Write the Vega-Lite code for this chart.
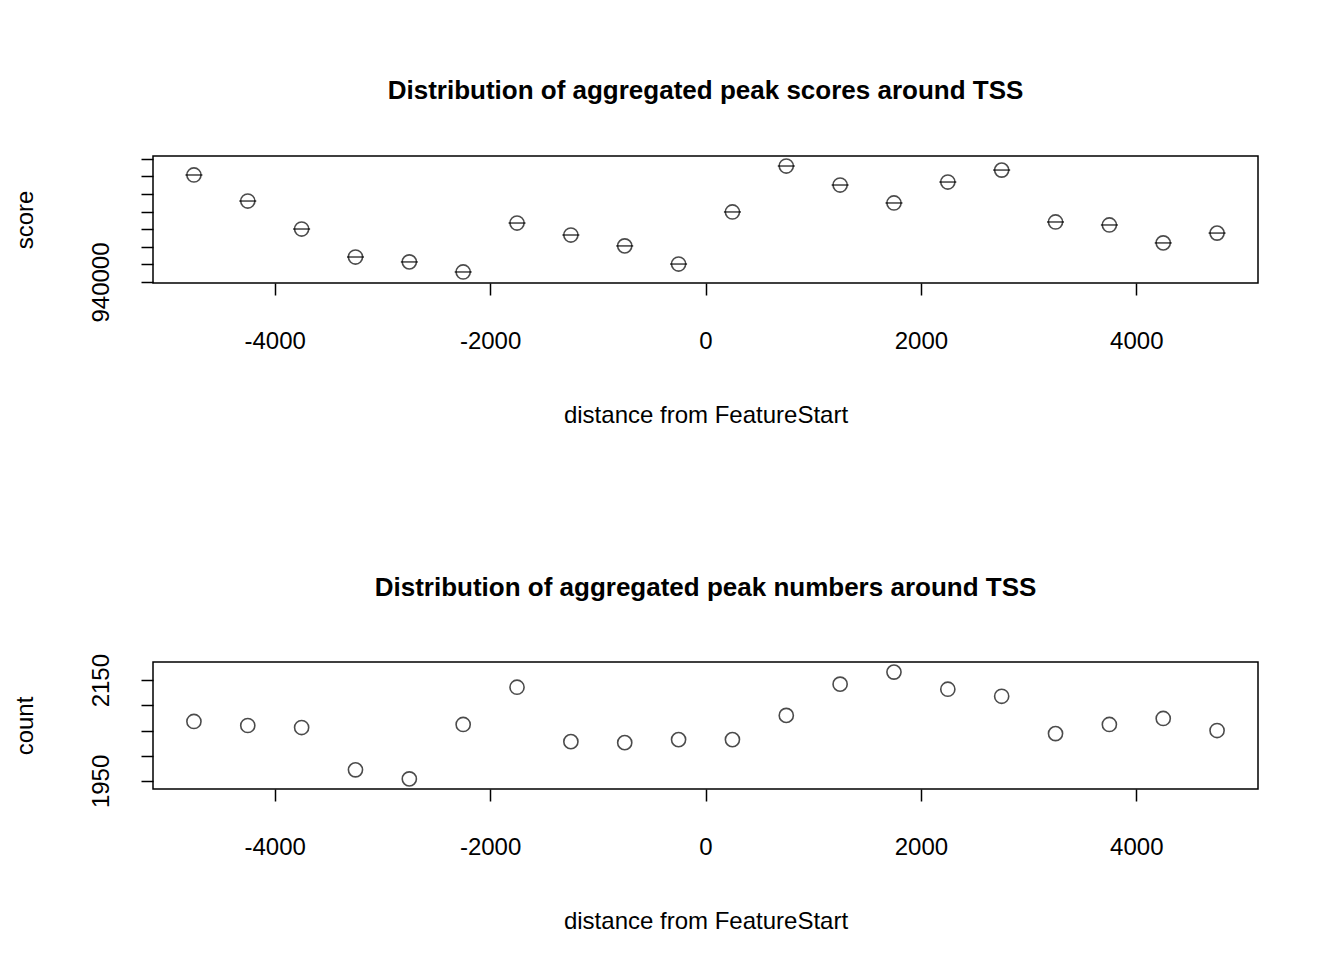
{
  "$schema": "https://vega.github.io/schema/vega-lite/v6.json",
  "background": "white",
  "padding": {"left": 12, "top": 76, "right": 40, "bottom": 10},
  "config": {
    "font": "Liberation Sans",
    "view": {"stroke": "black", "strokeWidth": 1.5},
    "title": {"fontSize": 26, "fontWeight": "bold", "color": "black", "offset": 52, "anchor": "middle"},
    "axis": {
      "grid": false, "domain": false, "tickColor": "black", "tickSize": 12, "tickWidth": 1.5,
      "labelFontSize": 24, "labelColor": "black", "titleFontSize": 24, "titleFontWeight": "normal", "titleColor": "black",
      "format": "d"
    },
    "axisX": {"labelPadding": 34, "titlePadding": 50},
    "axisY": {"labelAngle": -90, "labelAlign": "center", "labelBaseline": "bottom", "labelPadding": 28, "titlePadding": 52}
  },
  "spacing": 146,
  "vconcat": [
    {
      "title": "Distribution of aggregated peak scores around TSS",
      "width": 1105, "height": 127,
      "data": {"values": [
        {"d": -4750, "v": 946080}, {"d": -4250, "v": 944600}, {"d": -3750, "v": 943010}, {"d": -3250, "v": 941420},
        {"d": -2750, "v": 941140}, {"d": -2250, "v": 940570}, {"d": -1750, "v": 943350}, {"d": -1250, "v": 942670},
        {"d": -750, "v": 942050}, {"d": -250, "v": 941020}, {"d": 250, "v": 943980}, {"d": 750, "v": 946590},
        {"d": 1250, "v": 945510}, {"d": 1750, "v": 944490}, {"d": 2250, "v": 945680}, {"d": 2750, "v": 946360},
        {"d": 3250, "v": 943410}, {"d": 3750, "v": 943240}, {"d": 4250, "v": 942220}, {"d": 4750, "v": 942780}
      ]},
      "encoding": {
        "x": {"field": "d", "type": "quantitative", "scale": {"domain": [-5130, 5130], "nice": false, "zero": false},
              "axis": {"values": [-4000, -2000, 0, 2000, 4000], "title": "distance from FeatureStart", "labelExpr": "replace(datum.label, '−', '-')"}},
        "y": {"field": "v", "type": "quantitative", "scale": {"domain": [939943, 947159], "nice": false, "zero": false},
              "axis": {"values": [940000, 941000, 942000, 943000, 944000, 945000, 946000, 947000], "title": "score",
                       "labelExpr": "datum.value == 940000 ? '940000' : ''"}}
      },
      "layer": [
        {"mark": {"type": "point", "shape": "circle", "filled": false, "color": "black", "size": 200, "strokeWidth": 1.6}},
        {"mark": {"type": "tick", "orient": "horizontal", "size": 17, "thickness": 1.6, "color": "black"}}
      ]
    },
    {
      "title": "Distribution of aggregated peak numbers around TSS",
      "width": 1105, "height": 127,
      "data": {"values": [
        {"d": -4750, "v": 2068}, {"d": -4250, "v": 2060}, {"d": -3750, "v": 2056}, {"d": -3250, "v": 1972},
        {"d": -2750, "v": 1954}, {"d": -2250, "v": 2062}, {"d": -1750, "v": 2136}, {"d": -1250, "v": 2028},
        {"d": -750, "v": 2026}, {"d": -250, "v": 2032}, {"d": 250, "v": 2032}, {"d": 750, "v": 2080},
        {"d": 1250, "v": 2142}, {"d": 1750, "v": 2166}, {"d": 2250, "v": 2132}, {"d": 2750, "v": 2118},
        {"d": 3250, "v": 2044}, {"d": 3750, "v": 2062}, {"d": 4250, "v": 2074}, {"d": 4750, "v": 2050}
      ]},
      "mark": {"type": "point", "shape": "circle", "filled": false, "color": "black", "size": 200, "strokeWidth": 1.6},
      "encoding": {
        "x": {"field": "d", "type": "quantitative", "scale": {"domain": [-5130, 5130], "nice": false, "zero": false},
              "axis": {"values": [-4000, -2000, 0, 2000, 4000], "title": "distance from FeatureStart", "labelExpr": "replace(datum.label, '−', '-')"}},
        "y": {"field": "v", "type": "quantitative", "scale": {"domain": [1934, 2186], "nice": false, "zero": false},
              "axis": {"values": [1950, 2000, 2050, 2100, 2150], "title": "count",
                       "labelExpr": "datum.value == 2000 || datum.value == 2100 ? '' : datum.label"}}
      }
    }
  ]
}
